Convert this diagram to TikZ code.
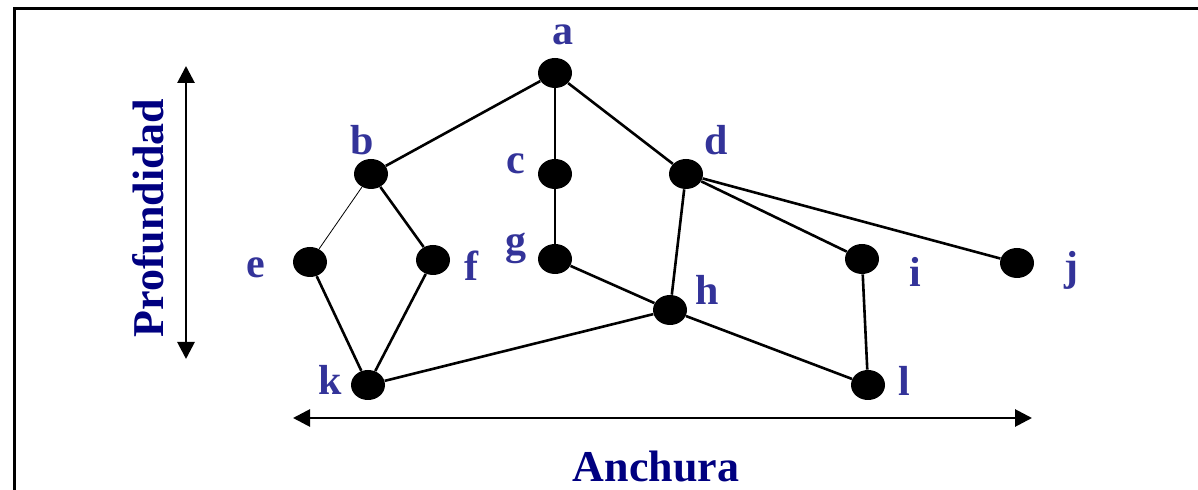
\documentclass[tikz,border=0pt]{standalone}
\usepackage{fontspec}
\setmainfont{Liberation Serif}
\usetikzlibrary{arrows.meta,shapes.geometric}
\definecolor{lbl}{HTML}{333399}
\definecolor{navy}{HTML}{000080}
\begin{document}
\begin{tikzpicture}[x=0.5pt,y=-0.5pt,
  vtx/.style={ellipse,fill=black,minimum width=17pt,minimum height=15pt,inner sep=0pt},
  lab/.style={text=lbl,font=\fontsize{21}{21}\selectfont\bfseries,inner sep=0pt},
  edge/.style={line width=1.3pt},
  thinedge/.style={line width=0.4pt},
  axis/.style={line width=1.4pt,{Triangle[length=8.5pt,width=8.5pt]}-{Triangle[length=8.5pt,width=8.5pt]}},
  axlab/.style={text=navy,font=\fontsize{22}{22}\selectfont\bfseries,inner sep=0pt}]
\useasboundingbox (0,0) rectangle (1198,490);
\draw[line width=1.5pt] (14,700) -- (14,9) -- (1400,9);
\node[vtx] (a) at (555,73) {};
\node[vtx] (b) at (371,174) {};
\node[vtx] (c) at (555,174) {};
\node[vtx] (d) at (686,174) {};
\node[vtx] (e) at (310,262) {};
\node[vtx] (f) at (433,260) {};
\node[vtx] (g) at (555,259) {};
\node[vtx] (h) at (670,310) {};
\node[vtx] (i) at (862,259) {};
\node[vtx] (j) at (1017,263) {};
\node[vtx] (k) at (368,385) {};
\node[vtx] (l) at (868,385) {};
\draw[edge] (a) -- (b);
\draw[edge] (a) -- (c);
\draw[edge] (a) -- (d);
\draw[thinedge] (b) -- (e);
\draw[edge] (b) -- (f);
\draw[edge] (c) -- (g);
\draw[edge] (g) -- (h);
\draw[edge] (d) -- (h);
\draw[edge] (d) -- (i);
\draw[edge] (d) -- (j);
\draw[edge] (e) -- (k);
\draw[edge] (f) -- (k);
\draw[edge] (k) -- (h);
\draw[edge] (h) -- (l);
\draw[edge] (i) -- (l);
\node[lab] (la) at (563,35) {a};
\node[lab] (lb) at (362,140) {b};
\node[lab] (lc) at (516,164) {c};
\node[lab] (ld) at (716,140) {d};
\node[lab] (le) at (256,268) {e};
\node[lab] (lf) at (471,266) {f};
\node[lab] (lg) at (516,248) {g};
\node[lab] (lh) at (707,290) {h};
\node[lab] (li) at (915,272) {i};
\node[lab] (lj) at (1071,270) {j};
\node[lab] (lk) at (330,380) {k};
\node[lab] (ll) at (904,381) {l};
\coordinate (vt) at (186,66);
\coordinate (vb) at (186,359);
\coordinate (hl) at (293,418);
\coordinate (hr) at (1032,418);
\draw[axis] (vt) -- (vb);
\draw[axis] (hl) -- (hr);
\node[axlab,rotate=90] (prof) at (148,218) {Profundidad};
\node[axlab] (anch) at (656,467) {Anchura};
\end{tikzpicture}
\end{document}
